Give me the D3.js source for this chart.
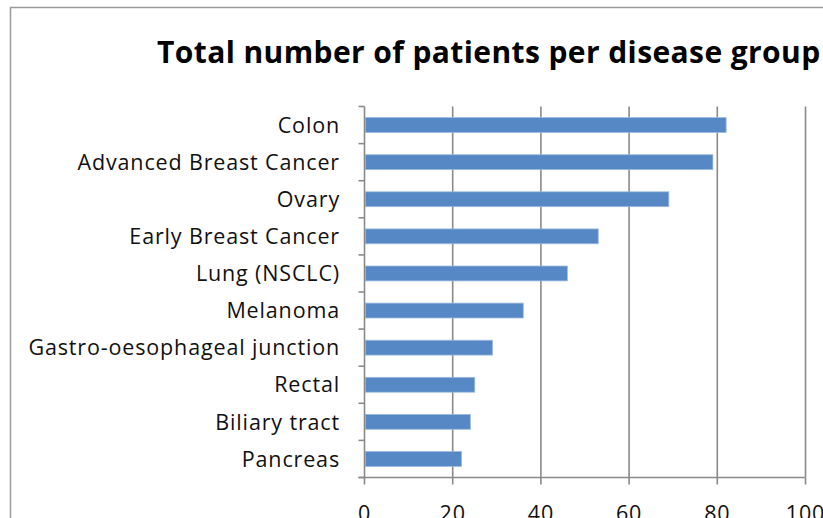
<!DOCTYPE html>
<html>
<head>
<meta charset="utf-8">
<script src="https://cdn.jsdelivr.net/npm/d3@7"></script>
<style>
  html, body { margin: 0; padding: 0; background: #fff; overflow: hidden; }
  svg { display: block; }
</style>
</head>
<body>
<script>
// Disease groups, top to bottom, and patient counts
const categories = [
  "Colon", "Advanced Breast Cancer", "Ovary", "Early Breast Cancer",
  "Lung (NSCLC)", "Melanoma", "Gastro-oesophageal junction",
  "Rectal", "Biliary tract", "Pancreas"
];
const patients = [82, 79, 69, 53, 46, 36, 29, 25, 24, 22];
const xTicks = [0, 20, 40, 60, 80, 100];
const title = "Total number of patients per disease group";

const W = 823, H = 518;
const margin = { left: 364.5, right: 805.5, top: 106.5, bottom: 477.5 };
const font = "'Open Sans', Lato, sans-serif";
const gridColor = "#8a8a8a";

const svg = d3.select("body").append("svg")
  .attr("width", W).attr("height", H);

// chart frame
svg.append("rect")
  .attr("x", 10.5).attr("y", 7.5)
  .attr("width", 1000).attr("height", 1000)
  .attr("fill", "#fff")
  .attr("stroke", "#9a9a9a").attr("stroke-width", 1.5);

const x = d3.scaleLinear().domain([0, 100]).range([margin.left, margin.right]);
const y = d3.scaleBand().domain(categories)
  .range([margin.top, margin.bottom])
  .paddingInner(0.6).paddingOuter(0.3);
const yEdges = d3.scaleLinear().domain([0, categories.length])
  .range([margin.top, margin.bottom]);

// vertical gridlines
svg.append("g").selectAll("line")
  .data(xTicks.slice(1))
  .join("line")
  .attr("x1", d => x(d)).attr("x2", d => x(d))
  .attr("y1", margin.top).attr("y2", margin.bottom)
  .attr("stroke", gridColor).attr("stroke-width", 1.6);

// bars
svg.append("g").selectAll("rect")
  .data(categories)
  .join("rect")
  .attr("x", x(0) + 1)
  .attr("y", d => y(d))
  .attr("width", (d, i) => x(patients[i]) - x(0) - 1)
  .attr("height", y.bandwidth())
  .attr("fill", "#5588c4")
  .attr("stroke", "#9bb8de").attr("stroke-width", 0.8);

// y axis: line, outward ticks at band edges
const yAxisG = svg.append("g");
yAxisG.append("line")
  .attr("x1", x(0)).attr("x2", x(0))
  .attr("y1", margin.top).attr("y2", margin.bottom)
  .attr("stroke", gridColor).attr("stroke-width", 1.6);
yAxisG.selectAll("line.tick")
  .data(d3.range(categories.length + 1))
  .join("line").attr("class", "tick")
  .attr("x1", x(0) - 6).attr("x2", x(0))
  .attr("y1", d => yEdges(d)).attr("y2", d => yEdges(d))
  .attr("stroke", gridColor).attr("stroke-width", 1.6);
yAxisG.selectAll("text")
  .data(categories)
  .join("text")
  .attr("x", 340)
  .attr("y", d => y(d) + y.bandwidth() / 2)
  .attr("dy", "0.36em")
  .attr("text-anchor", "end")
  .attr("font-family", font)
  .attr("font-size", 21.5)
  .attr("letter-spacing", 0.85)
  .attr("fill", "#111")
  .text(d => d);

// x axis: line, downward ticks, labels
const xAxisG = svg.append("g");
xAxisG.append("line")
  .attr("x1", x(0) - 6).attr("x2", x(100))
  .attr("y1", margin.bottom).attr("y2", margin.bottom)
  .attr("stroke", gridColor).attr("stroke-width", 1.6);
xAxisG.selectAll("line.tick")
  .data(xTicks)
  .join("line").attr("class", "tick")
  .attr("x1", d => x(d)).attr("x2", d => x(d))
  .attr("y1", margin.bottom).attr("y2", margin.bottom + 7)
  .attr("stroke", gridColor).attr("stroke-width", 1.6);
xAxisG.selectAll("text")
  .data(xTicks)
  .join("text")
  .attr("x", d => x(d))
  .attr("y", 520.5)
  .attr("text-anchor", "middle")
  .attr("font-family", font)
  .attr("font-size", 21.5)
  .attr("letter-spacing", 0.85)
  .attr("fill", "#111")
  .text(d => d);

// title
svg.append("text")
  .attr("x", 157).attr("y", 63)
  .attr("font-family", font)
  .attr("font-weight", "bold")
  .attr("font-size", 30)
  .attr("letter-spacing", 0.4)
  .attr("fill", "#000")
  .text(title);
</script>
</body>
</html>
